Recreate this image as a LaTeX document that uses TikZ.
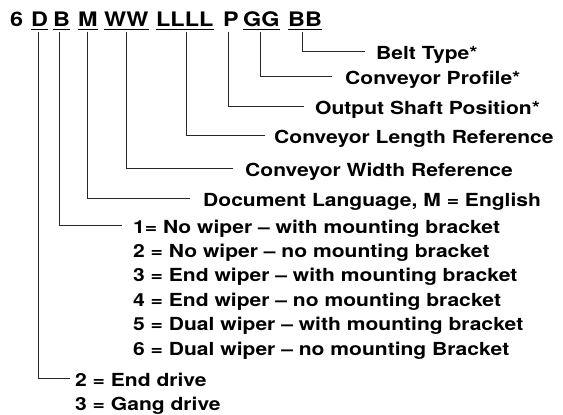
\documentclass[tikz,border=0pt]{standalone}
\usepackage{fontspec}
\usepackage{graphicx}
\setmainfont{TeX Gyre Heros}
\newcommand{\wx}[1]{\scalebox{1.17}[1]{#1}}
\tikzset{
  code/.style={anchor=base west, inner sep=0pt, text depth=0pt,
    font=\bfseries\fontsize{20}{22}\selectfont},
  lbl/.style={anchor=west, inner ysep=0pt, text height=16pt, text depth=0pt,
    font=\bfseries\fontsize{18}{20}\selectfont},
  conn/.style={draw=black!85, line width=1pt},
  uline/.style={draw=black, line width=1.4pt}
}
\begin{document}
\begin{tikzpicture}[x=1pt,y=1pt]
\useasboundingbox (0,0) rectangle (563,-415);
% code row
\node[code] (c6) at (10,-27) {\wx{6}};
\node[code] (cD) at (31,-27) {\wx{D}};
\node[code] (cB) at (53,-27) {\wx{B}};
\node[code] (cM) at (78,-27) {\wx{M}};
\node[code] (cW) at (104,-27) {\wx{WW}};
\node[code] (cL) at (156,-27) {\wx{LLLL}};
\node[code] (cP) at (223,-27) {\wx{P}};
\node[code] (cG) at (243,-27) {\wx{GG}};
\node[code] (cBB) at (288,-27) {\wx{BB}};
\foreach \n in {cD,cB,cM,cW,cL,cG,cBB}
  \draw[uline] ([yshift=-2.5pt]\n.south west) -- ([yshift=-2.5pt]\n.south east);
% labels
\node[lbl, inner xsep=11pt] (tBelt) at (365,-51) {\wx{Belt Type*}};
\node[lbl, inner xsep=13pt] (tProf) at (332,-76) {\wx{Conveyor Profile*}};
\node[lbl, inner xsep=11pt] (tOut) at (304,-106) {\wx{Output Shaft Position*}};
\node[lbl, inner xsep=9pt] (tLen) at (265,-135) {\wx{Conveyor Length Reference}};
\node[lbl, inner xsep=12pt] (tWid) at (233,-168) {\wx{Conveyor Width Reference}};
\node[lbl, inner xsep=13pt] (tDoc) at (190,-198) {\wx{Document Language, M = English}};
\node[lbl, inner xsep=11pt] (tW1) at (122,-225) {\wx{1= No wiper – with mounting bracket}};
\node[lbl, inner xsep=0pt] (tW2) at (133,-249.4) {\wx{2 = No wiper – no mounting bracket}};
\node[lbl, inner xsep=0pt] (tW3) at (133,-273.8) {\wx{3 = End wiper – with mounting bracket}};
\node[lbl, inner xsep=0pt] (tW4) at (133,-298.2) {\wx{4 = End wiper – no mounting bracket}};
\node[lbl, inner xsep=0pt] (tW5) at (133,-322.6) {\wx{5 = Dual wiper – with mounting bracket}};
\node[lbl, inner xsep=0pt] (tW6) at (133,-347) {\wx{6 = Dual wiper – no mounting Bracket}};
\node[lbl, inner xsep=5pt] (tD1) at (70,-378) {\wx{2 = End drive}};
\node[lbl, inner xsep=0pt] (tD2) at (75,-402.5) {\wx{3 = Gang drive}};
% connectors
\draw[conn] ([xshift=-3pt,yshift=-5pt]cBB.south) |- (tBelt.west);
\draw[conn] ([xshift=-1pt,yshift=-5pt]cG.south) |- (tProf.west);
\draw[conn] ([xshift=-3pt,yshift=-5pt]cP.south) |- (tOut.west);
\draw[conn] ([xshift=2pt,yshift=-5pt]cL.south) |- (tLen.west);
\draw[conn] ([yshift=-5pt]cW.south) |- (tWid.west);
\draw[conn] ([yshift=-5pt]cM.south) |- (tDoc.west);
\draw[conn] ([xshift=-2pt,yshift=-5pt]cB.south) |- (tW1.west);
\draw[conn] ([xshift=-1pt,yshift=-5pt]cD.south) |- (tD1.west);
\end{tikzpicture}
\end{document}
